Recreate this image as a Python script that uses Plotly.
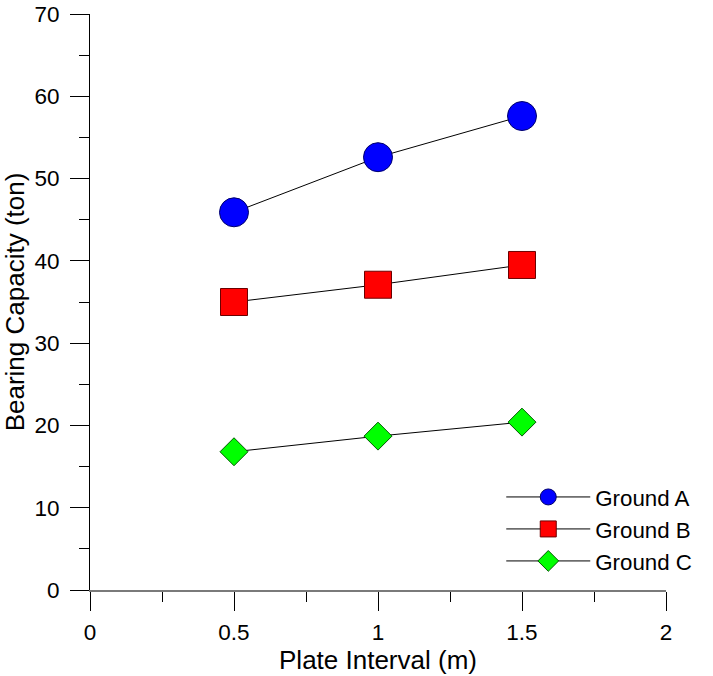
import plotly.graph_objects as go

plate_interval = [0.5, 1.0, 1.5]
ground_a = [45.9, 52.6, 57.6]
ground_b = [35.0, 37.1, 39.5]
ground_c = [16.8, 18.7, 20.4]

series = [
    ("Ground A", ground_a, "circle", "#0000ff", "#00006b", 29),
    ("Ground B", ground_b, "square", "#ff0000", "#6b0000", 27),
    ("Ground C", ground_c, "diamond", "#00ff00", "#005a00", 21.5),
]

fig = go.Figure()
for name, vals, sym, col, edge, size in series:
    fig.add_trace(go.Scatter(
        x=plate_interval, y=vals, name=name, mode="lines+markers",
        line=dict(color="black", width=1),
        marker=dict(symbol=sym, size=size, color=col, line=dict(color=edge, width=1)),
    ))

font = "Liberation Sans, Arial, sans-serif"
fig.update_layout(
    width=713, height=676,
    margin=dict(l=90, r=47, t=14, b=86),
    paper_bgcolor="white", plot_bgcolor="white",
    font=dict(family=font, size=22, color="black"),
    showlegend=True,
    legend=dict(x=0.714, y=0.198, xanchor="left", yanchor="top",
                bgcolor="rgba(0,0,0,0)", itemwidth=84, font=dict(size=22.3),
                itemsizing="trace"),
    xaxis=dict(range=[0, 2], tickmode="linear", tick0=0, dtick=0.5,
               ticks="outside", ticklen=19, tickwidth=1, tickcolor="black",
               showline=True, linecolor="#7a7a7a", linewidth=2,
               showgrid=False, zeroline=False, automargin=False,
               ticklabelstandoff=2,
               minor=dict(dtick=0.25, ticks="outside", ticklen=10, tickcolor="black", showgrid=False),
               title=dict(text="Plate Interval (m)", standoff=3, font=dict(size=26)),
               tickfont=dict(size=22.5)),
    yaxis=dict(range=[0, 70], tickmode="linear", tick0=0, dtick=10,
               ticks="outside", ticklen=19, tickwidth=1, tickcolor="black",
               showline=True, linecolor="black", linewidth=1,
               showgrid=False, zeroline=False, automargin=False,
               ticklabelstandoff=6,
               minor=dict(dtick=5, ticks="outside", ticklen=10, tickcolor="black", showgrid=False),
               title=dict(text="Bearing Capacity (ton)", standoff=4, font=dict(size=26)),
               tickfont=dict(size=22.5)),
)

fig.write_html("out.html", config={"displayModeBar": False},
               post_script="document.body.style.margin='0';")
